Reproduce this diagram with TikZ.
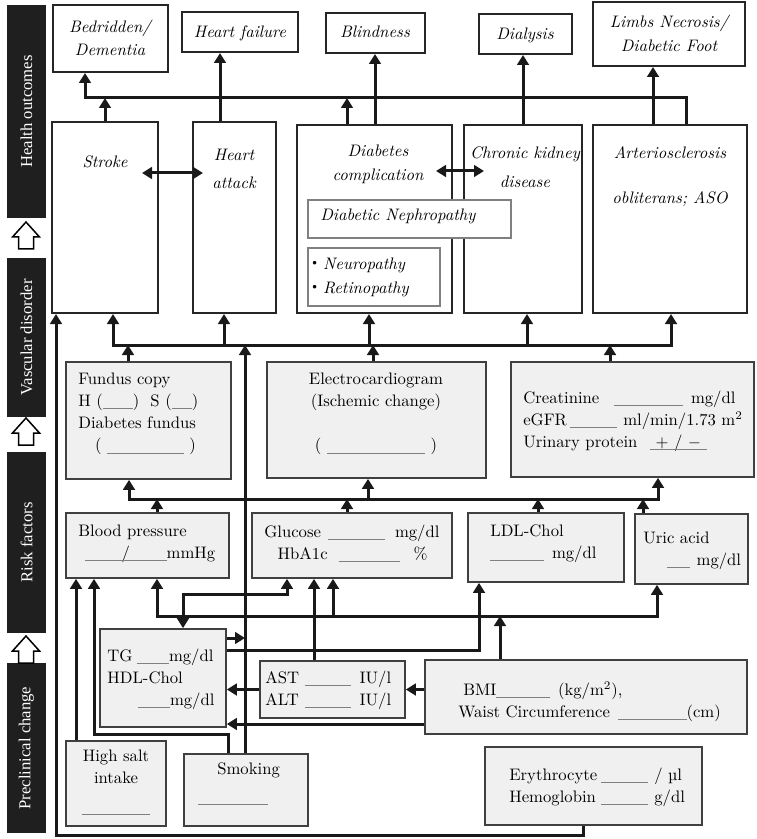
\documentclass[tikz,border=0pt]{standalone}
\usepackage{fontspec}
\newfontfamily\cjk{Noto Sans CJK JP}
\newfontfamily\barfont{Liberation Serif}
\usetikzlibrary{arrows.meta}
\usetikzlibrary{fit}
\newcommand\blank[1]{{\color{gray}\rule[-1.5pt]{#1}{0.5pt}}}
\newcommand\sqm{m\textsuperscript{2}}

\begin{document}
\begin{tikzpicture}[x=0.6pt,y=-0.6pt,
  every node/.style={inner sep=0pt},
  bar/.style={fill=black!88,draw=none},
  bartext/.style={rotate=90,text=white,font=\barfont\fontsize{10}{12}\selectfont},
  outbox/.style={draw=black!85,line width=1.2pt,fill=white},
  bigbox/.style={draw=black!85,line width=1.2pt,fill=white},
  subbox/.style={draw=gray,line width=0.8pt,fill=white},
  labbox/.style={draw=black!75,line width=1pt,fill=gray!12},
  txt/.style={align=left,font=\fontsize{10}{13.3}\selectfont},
  ittxt/.style={align=center,font=\itshape\fontsize{10}{12}\selectfont},
  conn/.style={line width=1.8pt,draw=black!90},
  arr/.style={conn,-{Triangle[length=6pt,width=7pt]}},
  dbl/.style={conn,{Triangle[length=6pt,width=7pt]}-{Triangle[length=6pt,width=7pt]}},
  hollow/.style={draw=black,line width=0.9pt,fill=white}]

\useasboundingbox (0,0) rectangle (756,839);

% stage bars on the left
\node[bar, fit={(7,5) (46,218)}] (outbar) {};
\node[bartext] (outlab) at (outbar) {Health outcomes};
\node[bar, fit={(7,258) (46,417)}] (vasbar) {};
\node[bartext] (vaslab) at (vasbar) {Vascular disorder};
\node[bar, fit={(7,452) (46,633)}] (riskbar) {};
\node[bartext] (risklab) at (riskbar) {Risk factors};
\node[bar, fit={(7,663) (46,833)}] (prebar) {};
\node[bartext] (prelab) at (prebar) {Preclinical change};

\draw[hollow,shift={(26,222)}] (0,0) -- (13.5,15) -- (7.5,15) -- (7.5,27) -- (-7.5,27) -- (-7.5,15) -- (-13.5,15) -- cycle;
\draw[hollow,shift={(26,418)}] (0,0) -- (13.5,15) -- (7.5,15) -- (7.5,27) -- (-7.5,27) -- (-7.5,15) -- (-13.5,15) -- cycle;
\draw[hollow,shift={(26,636)}] (0,0) -- (13.5,15) -- (7.5,15) -- (7.5,27) -- (-7.5,27) -- (-7.5,15) -- (-13.5,15) -- cycle;

% health outcomes
\node[outbox, fit={(53,5) (168,72)}] (bed) {};
\node[ittxt] (bedT) at (110,38) {Bedridden/\\[1.8pt]Dementia};
\node[outbox, fit={(182,12) (298,52)}] (hf) {};
\node[ittxt] (hfT) at (240,33) {Heart failure};
\node[outbox, fit={(326,13) (425,53)}] (blind) {};
\node[ittxt] (blindT) at (375,32) {Blindness};
\node[outbox, fit={(479,14) (572,54)}] (dial) {};
\node[ittxt] (dialT) at (525,35) {Dialysis};
\node[outbox, fit={(593,2) (745,66)}] (limbs) {};
\node[ittxt] (limbsT) at (669,33) {Limbs Necrosis/\\[2.4pt]Diabetic Foot};

% vascular disorder
\node[bigbox, fit={(52,122) (158,313)}] (stroke) {};
\node[bigbox, fit={(193,122) (276,313)}] (attack) {};
\node[bigbox, fit={(297,125) (452,313)}] (dcomp) {};
\node[bigbox, fit={(464,125) (582,313)}] (ckd) {};
\node[bigbox, fit={(593,125) (747,313)}] (aso) {};
\node[subbox, fit={(308,200) (511,238)}] (neph) {};
\node[subbox, fit={(308,248) (440,306)}] (neuro) {};

\node[ittxt] (strokeT) at (105,162) {Stroke};
\node[ittxt] (attackT) at (234,169) {Heart\\[4.8pt]attack};
\node[ittxt] (dcompT) at (378,164) {Diabetes\\[2.4pt]complication};
\node[ittxt] (ckdT) at (525,167.5) {Chronic kidney\\[5.4pt]disease};
\node[ittxt] (asoT) at (670,176.5) {Arteriosclerosis\\[15pt]obliterans; ASO};
\node[ittxt, anchor=west] (nephT) at (320,216) {Diabetic Nephropathy};
\node[ittxt, align=left, anchor=west] (neuroT) at (306,277) {{\cjk ・}Neuropathy\\[2.4pt]{\cjk ・}Retinopathy};

% examinations
\node[labbox, fit={(66,362) (231,479)}] (fundus) {};
\node[txt, anchor=west] (fundusT) at (78,414) {Fundus copy\\H (\blank{18pt})\ \ S (\blank{12pt})\\Diabetes fundus\\\hspace{10pt}( \blank{46pt} )};
\node[labbox, fit={(267,362) (486,478)}] (ecg) {};
\node[txt, align=center] (ecgT) at (376,414) {Electrocardiogram\\(Ischemic change)\\[13.3pt]( \blank{59pt} )};
\node[labbox, fit={(511,362) (754,477)}] (creat) {};
\node[txt, anchor=west] (creatT) at (523,421) {\makebox[54.6pt][l]{Creatinine}\blank{41pt}\hspace{5pt}mg/dl\\\makebox[28pt][l]{eGFR}\blank{28pt}\hspace{4pt}ml/min/1.73 \sqm\\\makebox[76pt][l]{Urinary protein}\makebox[34pt]{+ /\ $-$}\llap{\blank{34pt}}};

% risk factors
\node[labbox, fit={(66,513) (229,578)}] (bp) {};
\node[txt, anchor=west] (bpT) at (78,543.5) {Blood pressure\\\hspace{4pt}\makebox[49pt]{/}\llap{\blank{49pt}}mmHg};
\node[labbox, fit={(252,513) (452,578)}] (glu) {};
\node[txt, anchor=west] (gluT) at (264,543.5) {\makebox[38.4pt][l]{Glucose}\blank{34pt}\hspace{6pt}mg/dl\\\hspace{8pt}\makebox[36.6pt][l]{HbA1c}\blank{37pt}\hspace{8pt}\%};
\node[labbox, fit={(468,513) (624,582)}] (ldl) {};
\node[txt, anchor=west] (ldlT) at (490,543.5) {LDL-Chol\\\blank{32pt}\hspace{5pt}mg/dl};
\node[labbox, fit={(635,514) (748,584)}] (uric) {};
\node[txt, anchor=west] (uricT) at (643,550.5) {Uric acid\\\hspace{14pt}\blank{14pt}\hspace{4pt}mg/dl};

% preclinical change
\node[labbox, fit={(100,629) (226,727)}] (tg) {};
\node[txt, anchor=west] (tgT) at (107,679) {\makebox[18pt][l]{TG}\blank{19pt}mg/dl\\HDL-Chol\\\hspace{18.6pt}\blank{19pt}mg/dl};
\node[labbox, fit={(260,661) (405,718)}] (ast) {};
\node[txt, anchor=west] (astT) at (265,690.5) {\makebox[24pt][l]{AST}\blank{27.6pt}\hspace{5pt}IU/l\\\makebox[24pt][l]{ALT}\blank{27.6pt}\hspace{5pt}IU/l};
\node[labbox, fit={(425,660) (747,734)}] (bmi) {};
\node[txt, anchor=west] (bmiT) at (458,701.5) {\hspace{3pt}BMI\blank{32pt}\hspace{5pt}(kg/\sqm),\\Waist Circumference\hspace{5pt}\blank{41pt}(cm)};
\node[labbox, fit={(66,741) (166,826)}] (salt) {};
\node[txt, align=center] (saltT) at (116,782) {High salt\\intake\\[4pt]\blank{41pt}};
\node[labbox, fit={(184,754) (308,826)}] (smoke) {};
\node[txt, anchor=west] (smokeT) at (198,784) {\hspace{11.4pt}Smoking\\[3.5pt]\blank{42pt}};
\node[labbox, fit={(485,747) (702,825)}] (ery) {};
\node[txt, anchor=west] (eryT) at (509,787.5) {\makebox[55pt][l]{Erythrocyte}\blank{28pt}\hspace{4pt}/ µl\\\makebox[55pt][l]{Hemoglobin}\blank{28pt}\hspace{4pt}g/dl};

% outcome level connectors
\coordinate (busA) at (85,98);
\draw[arr] (aso.north -| 686,0) |- (busA) -- (busA |- bed.south);
\draw[arr] (stroke.north) -- (stroke.north |- busA);
\draw[arr] (dcomp.north -| 347,0) -- (busA -| 347,0);
\draw[arr] (attack.north -| 220,0) -- (hf.south -| 220,0);
\draw[arr] (dcomp.north -| 375,0) -- (blind.south -| 375,0);
\draw[arr] (ckd.north) -- (ckd.north |- dial.south);
\draw[arr] (aso.north -| 653,0) -- (limbs.south -| 653,0);
\coordinate (sk1) at (142,173);
\coordinate (sk2) at (203,173);
\draw[dbl] (sk1) -- (sk2);
\coordinate (dk1) at (436,171);
\coordinate (dk2) at (484,171);
\draw[dbl] (dk1) -- (dk2);

% vascular level connectors
\coordinate (busB) at (113,345);
\draw[dbl] (busB |- stroke.south) -- (busB) -- (busB -| 671,0) -- (aso.south -| 671,0);
\draw[arr] (busB -| 224,0) -- (attack.south -| 224,0);
\draw[arr] (busB -| 369,0) -- (dcomp.south -| 369,0);
\draw[arr] (busB -| 527,0) -- (ckd.south -| 527,0);
\draw[arr] (fundus.north -| 128,0) -- (busB -| 128,0);
\draw[arr] (ecg.north -| 373,0) -- (busB -| 373,0);
\draw[arr] (creat.north -| 610,0) -- (busB -| 610,0);
\draw[arr] (smoke.north -| 245,0) -- (busB -| 245,0);
\coordinate (low) at (56,835);
\draw[arr] (ery.south -| 583,0) |- (low) -- (low |- stroke.south);

% examination level connectors
\coordinate (busC) at (129,499);
\draw[dbl] (busC |- fundus.south) -- (busC) -- (busC -| 658,0) -- (creat.south -| 658,0);
\draw[arr] (busC -| 368,0) -- (ecg.south -| 368,0);
\draw[arr] (bp.north -| 157,0) -- (busC -| 157,0);
\draw[arr] (glu.north -| 347,0) -- (busC -| 347,0);
\draw[arr] (ldl.north -| 538,0) -- (busC -| 538,0);
\draw[arr] (uric.north -| 643,0) -- (busC -| 643,0);

% risk level connectors
\coordinate (busD) at (157,616);
\draw[dbl] (busD |- bp.south) -- (busD) -- (busD -| 657,0) -- (uric.south -| 657,0);
\draw[arr] (busD -| 333,0) -- (glu.south -| 333,0);
\draw[arr] (bmi.north -| 500,0) -- (busD -| 500,0);
\coordinate (tgup) at (183,594);
\draw[dbl] (tg.north -| tgup) -- (tgup) -| (glu.south -| 287,0);
\draw[arr] (ast.north -| 314,0) -- (glu.south -| 314,0);
\coordinate (tgjoin) at (245,638);
\draw[arr] (tg.east |- tgjoin) -- (tgjoin);
\draw[arr] (tg.east |- 0,650) -| (ldl.south -| 479,0);
\draw[arr] (ast.west) -- (ast.west -| tg.east);
\draw[arr] (bmi.west |- ast.east) -- (ast.east);
\draw[arr] (bmi.west |- 0,724) -- (tg.east |- 0,724);
\draw[arr] (salt.north -| 76,0) -- (bp.south -| 76,0);
\draw[arr] (smoke.north -| 228,0) -- (228,734) -| (bp.south -| 94,0);

\end{tikzpicture}
\end{document}
